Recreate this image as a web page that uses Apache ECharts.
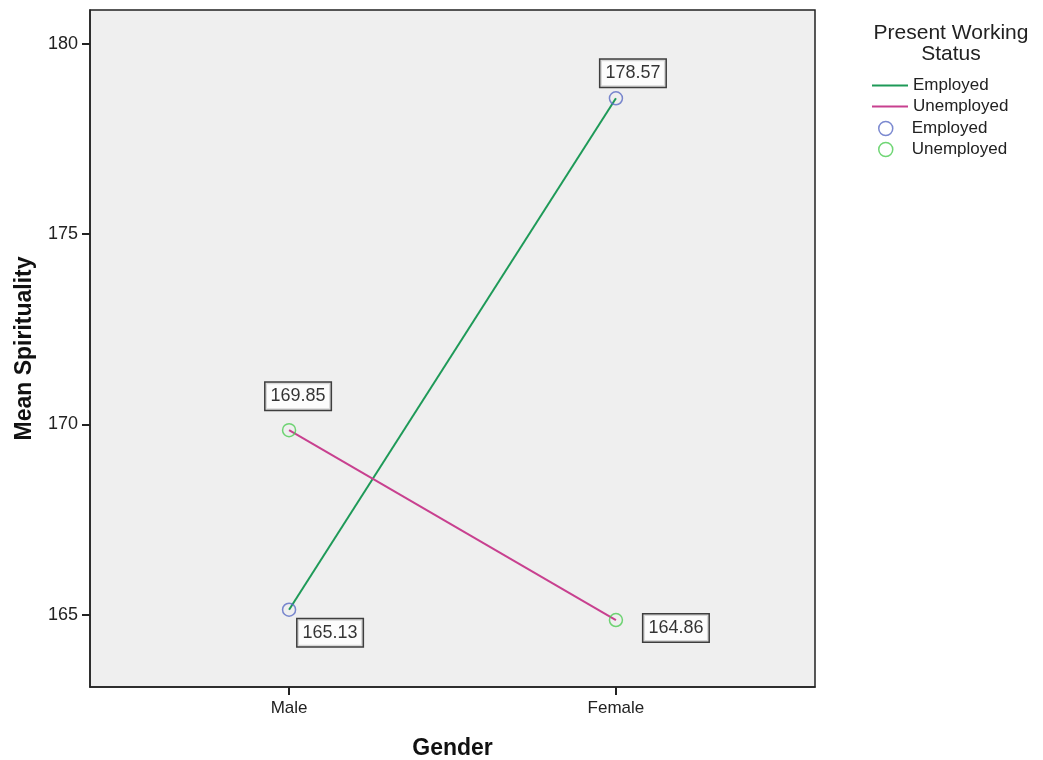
<!DOCTYPE html>
<html><head><meta charset="utf-8">
<script src="https://cdn.jsdelivr.net/npm/echarts@6/dist/echarts.min.js"></script>
<style>html,body{margin:0;padding:0;background:#fff}#c{width:1043px;height:760px}</style>
</head><body><div id="c"></div>
<script>
var categories = ['Male', 'Female'];
var employedMeans = [165.13, 178.57];
var unemployedMeans = [169.85, 164.86];
var yTicks = [165, 170, 175, 180];
var legendTitle = 'Present Working\nStatus';
var groupNames = ['Employed', 'Unemployed'];

var chart = echarts.init(document.getElementById('c'));
var FONT = '"Liberation Sans", Arial, sans-serif';
function pts(vals){ return vals.map(function(v,i){ return [i, v]; }); }
var labelStyle = {
  show: true, position: 'inside', color: '#000', fontSize: 18, fontFamily: FONT,
  textBorderWidth: 0, textBorderColor: 'transparent',
  backgroundColor: '#fff', borderColor: '#111', borderWidth: 1.5, padding: [5, 5, 4, 5],
  formatter: function(p){ return p.value[1].toFixed(2); }
};
function ptsLabeled(vals, offsets){
  return vals.map(function(v,i){ return { value: [i, v], label: { offset: offsets[i] } }; });
}
var option = {
  backgroundColor: '#fff',
  animation: false,
  title: { text: legendTitle, left: 946, top: 18, textAlign: 'center',
    textStyle: { fontFamily: FONT, fontSize: 21, fontWeight: 'normal', color: '#222', lineHeight: 21 } },
  grid: { left: 90, top: 10, right: 228, bottom: 73, show: true, backgroundColor: '#efefef',
    borderColor: '#222', borderWidth: 1.5, outerBoundsMode: 'none', containLabel: false },
  legend: [
    { orient: 'vertical', left: 867, top: 70, itemWidth: 36, itemHeight: 2, itemGap: 0, icon: 'rect',
      data: [groupNames[0], groupNames[1]],
      textStyle: { fontFamily: FONT, fontSize: 17, color: '#222', lineHeight: 21 } },
    { orient: 'vertical', left: 873, top: 113, itemWidth: 14, itemHeight: 14, itemGap: 0,
      data: [
        { name: groupNames[0] + ' ', icon: 'circle', itemStyle: { color: 'rgba(0,0,0,0)', borderColor: '#5a6cc4', borderWidth: 1.5 } },
        { name: groupNames[1] + ' ', icon: 'circle', itemStyle: { color: 'rgba(0,0,0,0)', borderColor: '#4ccc52', borderWidth: 1.5 } }
      ],
      textStyle: { fontFamily: FONT, fontSize: 17, color: '#222', lineHeight: 21, padding: [0, 0, 0, 14] } }
  ],
  xAxis: {
    type: 'value', min: -0.609, max: 1.609, splitLine: { show: false },
    name: 'Gender', nameLocation: 'middle', nameGap: 50,
    nameTextStyle: { fontFamily: FONT, fontSize: 23, fontWeight: 'bold', color: '#111' },
    axisLine: { show: true, onZero: false, lineStyle: { color: '#222', width: 1.5 } },
    axisTick: { show: true, length: 8, lineStyle: { color: '#222', width: 2 }, customValues: [0, 1] },
    axisLabel: { customValues: [0, 1], margin: 13, fontFamily: FONT, fontSize: 17, color: '#222',
      formatter: function(v){ return categories[Math.round(v)]; } }
  },
  yAxis: {
    type: 'value', min: 163.1, max: 180.89, splitLine: { show: false },
    name: 'Mean Spirituality', nameLocation: 'middle', nameGap: 54,
    nameTextStyle: { fontFamily: FONT, fontSize: 23, fontWeight: 'bold', color: '#111' },
    axisLine: { show: true, onZero: false, lineStyle: { color: '#222', width: 1.5 } },
    axisTick: { show: true, length: 8, lineStyle: { color: '#222', width: 2 }, customValues: yTicks },
    axisLabel: { customValues: yTicks, margin: 12, fontFamily: FONT, fontSize: 18, color: '#222' }
  },
  series: [
    { name: groupNames[0], type: 'line', data: pts(employedMeans), showSymbol: false, symbol: 'none',
      lineStyle: { color: '#1e9a58', width: 2 }, itemStyle: { color: '#1e9a58' }, z: 2 },
    { name: groupNames[1], type: 'line', data: pts(unemployedMeans), showSymbol: false, symbol: 'none',
      lineStyle: { color: '#c8408f', width: 2 }, itemStyle: { color: '#c8408f' }, z: 2 },
    { name: groupNames[0] + ' ', type: 'scatter', data: ptsLabeled(employedMeans, [[41, 23], [17, -25]]),
      symbol: 'circle', symbolSize: 13,
      itemStyle: { color: 'rgba(0,0,0,0)', borderColor: '#5a6cc4', borderWidth: 1.5 }, label: labelStyle, z: 3 },
    { name: groupNames[1] + ' ', type: 'scatter', data: ptsLabeled(unemployedMeans, [[9, -34], [60, 8]]),
      symbol: 'circle', symbolSize: 13,
      itemStyle: { color: 'rgba(0,0,0,0)', borderColor: '#4ccc52', borderWidth: 1.5 }, label: labelStyle, z: 3 }
  ]
};
chart.setOption(option);
</script>
</body></html>
